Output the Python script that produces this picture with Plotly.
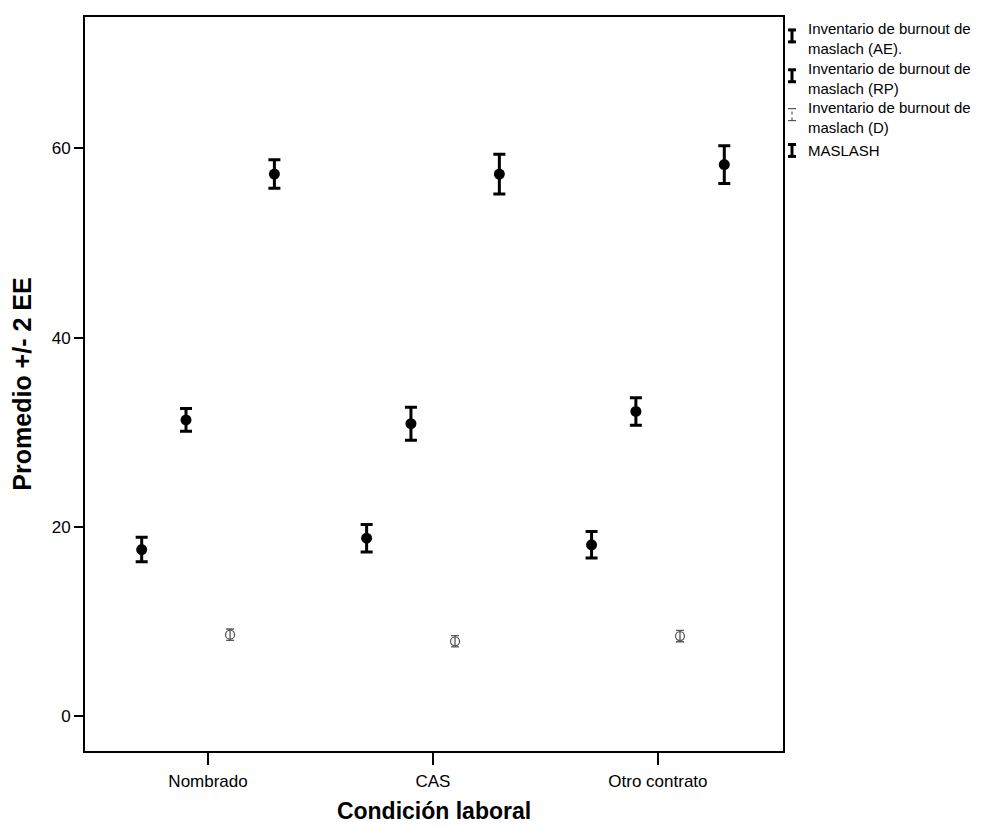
import plotly.graph_objects as go

categories = ["Nombrado", "CAS", "Otro contrato"]
legend_labels = [
    "Inventario de burnout de<br>maslach (AE).",
    "Inventario de burnout de<br>maslach (RP)",
    "Inventario de burnout de<br>maslach (D)",
    "MASLASH",
]
series_names = ["AE", "RP", "D", "MASLASH"]
ae_mean = [17.6, 18.8, 18.1]
ae_err = [1.3, 1.45, 1.4]
rp_mean = [31.3, 30.9, 32.2]
rp_err = [1.2, 1.75, 1.45]
d_mean = [8.6, 7.9, 8.45]
d_err = [0.6, 0.6, 0.6]
mas_mean = [57.3, 57.3, 58.3]
mas_err = [1.5, 2.1, 2.0]
y_ticks = [0, 20, 40, 60]

means = [ae_mean, rp_mean, d_mean, mas_mean]
errs = [ae_err, rp_err, d_err, mas_err]
offsets = [-0.295, -0.098, 0.098, 0.295]
colors = ["black", "black", "#5a5a5a", "black"]

OFF = 8  # browser body margin
W, H = 1008 - OFF, 827 - OFF
L, R, T, B = 77, 225, 7, 75
PW, PH = W - L - R, H - T - B


def px_x(sx):
    return (sx - OFF - L) / PW


def px_y(sy):
    return (H - B - (sy - OFF)) / PH


fig = go.Figure()
for i in range(4):
    xs = [k + offsets[i] for k in range(len(categories))]
    hollow = i == 2
    fig.add_trace(go.Scatter(
        x=xs, y=means[i], mode="markers", name=series_names[i], showlegend=False,
        marker=dict(
            symbol="circle-open" if hollow else "circle",
            size=9 if hollow else 11,
            color=colors[i],
            line=dict(width=1.3 if hollow else 0, color=colors[i]),
        ),
        error_y=dict(type="data", array=errs[i], visible=True,
                     color=colors[i], thickness=1.3 if hollow else 3,
                     width=4 if hollow else 6),
    ))

# legend built from text and small I-beam symbols
font_family = "Liberation Sans, Arial, sans-serif"
annotations = []
shapes = []
sym_y = [37, 77, 116, 149]
sym_x = 792
text_x = 806
for i in range(4):
    annotations.append(dict(
        x=px_x(text_x), y=px_y(sym_y[i]), xref="paper", yref="paper",
        text=legend_labels[i], showarrow=False, xanchor="left", yanchor="middle",
        align="left", font=dict(size=15, family=font_family, color="black"),
    ))
    hollow = i == 2
    lw = 1.2 if hollow else 3
    dash = "dot" if hollow else "solid"
    cx, cy = px_x(sym_x), px_y(sym_y[i] - (3 if i < 3 else 0))
    hh = 6 / PH
    hw = 4 / PW
    shapes.append(dict(type="line", xref="paper", yref="paper",
                       x0=cx, x1=cx, y0=cy - hh, y1=cy + hh,
                       line=dict(color=colors[i], width=lw, dash=dash)))
    for s in (-1, 1):
        shapes.append(dict(type="line", xref="paper", yref="paper",
                           x0=cx - hw, x1=cx + hw, y0=cy + s * hh, y1=cy + s * hh,
                           line=dict(color=colors[i], width=lw if not hollow else 1.2)))

fig.update_layout(
    width=W, height=H,
    paper_bgcolor="white", plot_bgcolor="white",
    margin=dict(l=L, r=R, t=T, b=B),
    font=dict(family=font_family, color="black", size=17),
    showlegend=False,
    annotations=annotations,
    shapes=shapes,
)
fig.update_xaxes(
    range=[-0.547, 2.556], tickvals=[0, 1, 2], ticktext=categories,
    showgrid=False, zeroline=False, showline=True, mirror=True,
    linecolor="black", linewidth=2, ticks="outside", ticklen=12,
    tickwidth=2, tickcolor="black", tickfont=dict(size=17),
    ticklabelstandoff=2,
    title=dict(text="<b>Condición laboral</b>", font=dict(size=23), standoff=12),
)
fig.update_yaxes(
    range=[-3.7, 73.9], tickvals=y_ticks,
    showgrid=False, zeroline=False, showline=True, mirror=True,
    linecolor="black", linewidth=2, ticks="outside", ticklen=9,
    tickwidth=2, tickcolor="black", tickfont=dict(size=17),
    title=dict(text="<b>Promedio +/- 2 EE</b>", font=dict(size=25), standoff=14),
)

fig.write_html("out.html")
